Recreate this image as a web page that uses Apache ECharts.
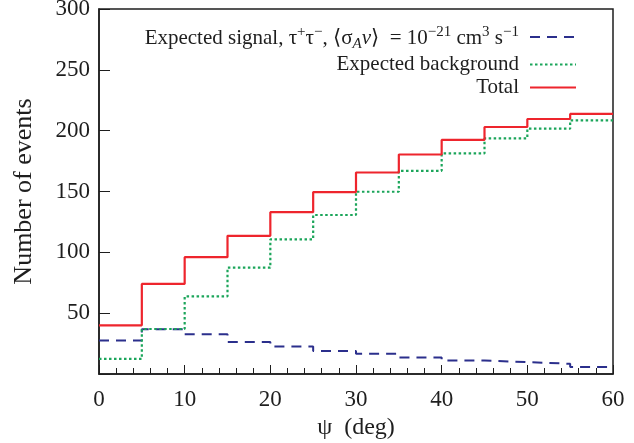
<!DOCTYPE html>
<html>
<head>
<meta charset="utf-8">
<script src="https://cdn.jsdelivr.net/npm/echarts@6/dist/echarts.min.js"></script>
<style>
  html, body { margin: 0; padding: 0; background: #fff; }
  #main { width: 634px; height: 443px; }
</style>
</head>
<body>
<div id="main"></div>
<script>
// bin edges (deg) and counts per 5-deg bin
var binEdges = [0, 5, 10, 15, 20, 25, 30, 35, 40, 45, 50, 55, 60];
var signal = [27.5, 36.8, 32.7, 26.2, 22.6, 19.0, 16.6, 13.6, 11.1, 9.8, 8.4, 5.7];
var background = [12.5, 37, 63.8, 87.4, 110.7, 130.7, 149.8, 167, 181.3, 193.6, 201.6, 208.4];
var total = [40, 74, 96, 113.6, 133, 149.5, 165.6, 180.4, 192.4, 203, 209.6, 213.8];
var xTicks = [0, 10, 20, 30, 40, 50, 60];
var yTicks = [50, 100, 150, 200, 250, 300];

var seriesNames = [
    'Expected signal, \u03c4\u207a\u03c4\u207b, \u27e8\u03c3Av\u27e9 = 10\u207b\u00b2\u00b9 cm\u00b3 s\u207b\u00b9',
    'Expected background',
    'Total'
];

var font = '"Liberation Serif", "DejaVu Serif", serif';
var ink = '#1e1e1e';

// histogram -> step points (last value repeated at the right edge)
function steps(values) {
    var pts = [];
    for (var i = 0; i < values.length; i++) {
        pts.push([binEdges[i], values[i]]);
    }
    pts.push([binEdges[binEdges.length - 1], values[values.length - 1]]);
    return pts;
}

var chart = echarts.init(document.getElementById('main'), null, { renderer: 'canvas' });

var options = {
    backgroundColor: '#fff',
    animation: false,
    grid: {
        left: 99,
        right: 21,
        top: 9,
        bottom: 69,
        outerBoundsMode: 'none',
        containLabel: false,
        show: true,
        borderColor: ink,
        borderWidth: 1.5
    },
    legend: {
        orient: 'vertical',
        right: 52,
        top: 20,
        align: 'right',
        itemWidth: 46,
        itemHeight: 10,
        itemGap: 2,
        data: seriesNames,
        itemStyle: { opacity: 0 },
        textStyle: {
            fontFamily: font,
            fontSize: 21,
            color: ink,
            padding: [0, 6, 0, 0],
            rich: {
                t: { fontFamily: font, fontSize: 21, color: ink, verticalAlign: 'bottom' },
                i: { fontFamily: font, fontSize: 21, color: ink, fontStyle: 'italic', verticalAlign: 'bottom' },
                sup: { fontFamily: font, fontSize: 15, color: ink, verticalAlign: 'bottom', padding: [0, 0, 9, 0] },
                sub: { fontFamily: font, fontSize: 15, color: ink, fontStyle: 'italic', verticalAlign: 'bottom', padding: [0, 0, -3, 0] }
            }
        },
        formatter: function(name) {
            if (name === seriesNames[0]) {
                return '{t|Expected signal, \u03c4}{sup|+}{t|\u03c4}{sup|\u2212}{t|, \u27e8\u03c3}{sub|A}{i|v}{t|\u27e9  = 10}{sup|\u221221}{t| cm}{sup|3}{t| s}{sup|\u22121}';
            }
            return name;
        }
    },
    xAxis: {
        type: 'value',
        min: 0,
        max: 60,
        interval: 10,
        name: '\u03c8  (deg)',
        nameLocation: 'middle',
        nameGap: 39,
        nameTextStyle: { fontFamily: font, fontSize: 24, color: ink },
        axisLine: { lineStyle: { color: ink, width: 1.5 } },
        axisTick: { inside: true, length: 9, lineStyle: { color: ink, width: 1 } },
        minorTick: { show: true, splitNumber: 5, length: 6, lineStyle: { color: ink, width: 1 } },
        splitLine: { show: false },
        axisLabel: {
            fontFamily: font, fontSize: 23, color: ink, margin: 14,
            formatter: function(v) { return xTicks.indexOf(v) >= 0 ? String(v) : ''; }
        }
    },
    yAxis: {
        type: 'value',
        min: 0,
        max: 300,
        interval: 50,
        name: 'Number of events',
        nameLocation: 'middle',
        nameGap: 62,
        nameTextStyle: { fontFamily: font, fontSize: 26, color: ink },
        axisLine: { lineStyle: { color: ink, width: 1.5 } },
        axisTick: { inside: true, length: 11, lineStyle: { color: ink, width: 1 } },
        splitLine: { show: false },
        axisLabel: {
            fontFamily: font, fontSize: 23, color: ink, margin: 9,
            formatter: function(v) { return yTicks.indexOf(v) >= 0 ? String(v) : ''; }
        }
    },
    series: [{
        name: seriesNames[0],
        type: 'line',
        step: 'end',
        symbol: 'none',
        data: steps(signal),
        lineStyle: { color: '#2b2f8c', width: 2, type: [10, 7] },
        itemStyle: { color: '#2b2f8c' }
    }, {
        name: seriesNames[1],
        type: 'line',
        step: 'end',
        symbol: 'none',
        data: steps(background),
        lineStyle: { color: '#1ba55a', width: 2.2, type: [2.5, 2.5] },
        itemStyle: { color: '#1ba55a' }
    }, {
        name: seriesNames[2],
        type: 'line',
        step: 'end',
        symbol: 'none',
        data: steps(total),
        lineStyle: { color: '#ee252d', width: 2.2 },
        itemStyle: { color: '#ee252d' }
    }]
};
chart.setOption(options);
</script>
</body>
</html>
